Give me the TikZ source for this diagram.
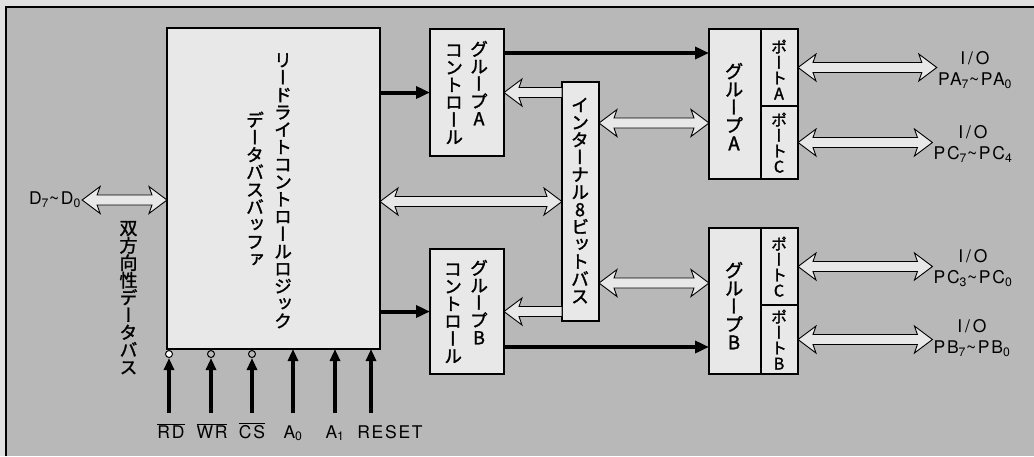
\documentclass[tikz,border=0pt]{standalone}
\usepackage{fontspec}
\setmainfont{TeX Gyre Heros}
\newfontfamily\lblfont[LetterSpace=10]{TeX Gyre Heros}
\newfontfamily\tatefont[RawFeature={+vert;embolden=1.6}]{Noto Sans CJK JP}
\usetikzlibrary{arrows.meta,calc}

\definecolor{paper}{gray}{0.88}
\definecolor{panel}{gray}{0.72}
\definecolor{boxfill}{gray}{0.91}

% vertical (tategaki) text: one glyph per line
\newlength\tatepitch
\newlength\tatesize
\makeatletter
\newcommand\tate[2][17.4pt]{\setlength\tatepitch{#1}\setlength\tatesize{\dimexpr#1+.6pt\relax}%
  \vbox{\offinterlineskip\tatefont\fontsize{\strip@pt\tatesize}{\strip@pt\tatesize}\selectfont
    \tate@#2\tate@stop}}
\def\tate@stop{\tate@stop}
\def\tate@#1{\ifx#1\tate@stop\else
  \hbox to 1em{\hss\vrule height\dimexpr.5\tatepitch+.38em\relax
    depth\dimexpr.5\tatepitch-.38em\relax width0pt\smash{#1}\hss}%
  \expandafter\tate@\fi}
\makeatother

\tikzset{
  blk/.style={draw, line width=1.2pt, fill=boxfill, inner sep=0pt, outer sep=0pt, anchor=north west},
  vtxt/.style={anchor=north, inner sep=0pt},
  lbl/.style={font=\lblfont\fontsize{17.5pt}{21pt}\selectfont, inner sep=1pt, align=center},
  ctl/.style={line width=4pt, -{Triangle[length=14pt,width=12pt]}},
  sig/.style={line width=3.5pt, -{Triangle[length=12pt,width=10pt]}},
  inv/.style={circle, draw, line width=1pt, minimum size=7pt, inner sep=0pt},
  dbus/.style={draw, line width=0.9pt, fill=boxfill,
    to path={let \p1=(\tikztostart), \p2=(\tikztotarget) in
      (\x1,\y1) -- (\x1+18pt,\y1+13.5pt) -- (\x1+15pt,\y1+5pt) -- (\x2-15pt,\y1+5pt)
      -- (\x2-18pt,\y1+13.5pt) -- (\x2,\y1) -- (\x2-18pt,\y1-13.5pt) -- (\x2-15pt,\y1-5pt)
      -- (\x1+15pt,\y1-5pt) -- (\x1+18pt,\y1-13.5pt) -- cycle}},
  inbus/.style={draw, line width=0.9pt, fill=boxfill,
    to path={let \p1=(\tikztostart), \p2=(\tikztotarget) in
      (\x2,\y1) -- (\x2+18pt,\y1+13.5pt) -- (\x2+15pt,\y1+5pt) -- (\x1,\y1+5pt)
      -- (\x1,\y1-5pt) -- (\x2+15pt,\y1-5pt) -- (\x2+18pt,\y1-13.5pt) -- cycle}},
}

\begin{document}
\begin{tikzpicture}[x=1pt, y=-1pt]
  \useasboundingbox (0,0) rectangle (1034,456);
  \fill[paper] (0,0) rectangle (1034,456);
  \fill[panel] (6,7) rectangle (1034,456);
  \draw[line width=1.5pt] (6,456) -- (6,7) -- (1034,7);

  % blocks
  \node[blk, minimum width=213pt, minimum height=321pt] (main) at (167,28) {};
  \node[blk, minimum width=74pt, minimum height=127pt] (ctla) at (430,29) {};
  \node[blk, minimum width=74pt, minimum height=125pt] (ctlb) at (430,249) {};
  \node[blk, minimum width=37pt, minimum height=239pt] (ibus) at (562,82) {};
  \node[blk, minimum width=52pt, minimum height=150pt] (grpa) at (709,29) {};
  \node[blk, minimum width=37pt, minimum height=77pt] (porta) at (grpa.north east) {};
  \node[blk, minimum width=37pt, minimum height=73pt] (portca) at (porta.south west) {};
  \node[blk, minimum width=52pt, minimum height=146pt] (grpb) at (709,228) {};
  \node[blk, minimum width=37pt, minimum height=77pt] (portcb) at (grpb.north east) {};
  \node[blk, minimum width=37pt, minimum height=69pt] (portb) at (portcb.south west) {};

  % vertical texts
  \node[vtxt] (mainr) at (283,51) {\tate{リードライトコントロールロジック}};
  \node[vtxt] (mainl) at (255,111) {\tate{データバスバッファ}};
  \node[vtxt] (ctlar) at (479,40) {\tate{グループA}};
  \node[vtxt] (ctlal) at (454,41) {\tate{コントロール}};
  \node[vtxt] (ctlbr) at (479,259) {\tate{グループB}};
  \node[vtxt] (ctlbl) at (453,260) {\tate{コントロール}};
  \node[vtxt] (ibustxt) at (580,96) {\tate{インターナル8ビットバス}};
  \node[vtxt] (grpatxt) at (734,62) {\tate[18pt]{グループA}};
  \node[vtxt] (portatxt) at (779,39) {\tate[15.5pt]{ポートA}};
  \node[vtxt] (portcatxt) at (779,112) {\tate[15.5pt]{ポートC}};
  \node[vtxt] (grpbtxt) at (734,261) {\tate[18pt]{グループB}};
  \node[vtxt] (portcbtxt) at (779,236) {\tate[15.5pt]{ポートC}};
  \node[vtxt] (portbtxt) at (779,309) {\tate[15.5pt]{ポートB}};
  \node[vtxt] (dbustxt) at (128.5,219) {\tate{双方向性データバス}};

  % labels
  \node[lbl] (dlbl) at (55,200) {D\textsubscript{7}\textasciitilde D\textsubscript{0}};
  \node[lbl] (pa) at (975,70) {I\,/\,O\\PA\textsubscript{7}\textasciitilde PA\textsubscript{0}};
  \node[lbl] (pch) at (973,144) {I\,/\,O\\PC\textsubscript{7}\textasciitilde PC\textsubscript{4}};
  \node[lbl] (pcl) at (973,268) {I\,/\,O\\PC\textsubscript{3}\textasciitilde PC\textsubscript{0}};
  \node[lbl] (pb) at (972,338) {I\,/\,O\\PB\textsubscript{7}\textasciitilde PB\textsubscript{0}};

  \node[lbl, anchor=base] (rd) at (171,438) {$\overline{\mbox{RD}}$};
  \node[lbl, anchor=base] (wr) at (212,438) {$\overline{\mbox{WR}}$};
  \node[lbl, anchor=base] (cs) at (252,438) {$\overline{\mbox{CS}}$};
  \node[lbl, anchor=base] (a0) at (293,438) {A\textsubscript{0}};
  \node[lbl, anchor=base] (a1) at (335,438) {A\textsubscript{1}};
  \node[lbl, anchor=base] (reset) at (390,438) {RESET};

  % control lines
  \coordinate (ctlaout) at ([yshift=-24pt]ctla.north east);
  \coordinate (ctlbout) at ([yshift=27pt]ctlb.south east);
  \draw[ctl] (main.east |- ctla.west) -- (ctla.west);
  \draw[ctl] (main.east |- ctlb.west) -- (ctlb.west);
  \draw[ctl] (ctlaout) -- (ctlaout -| grpa.west);
  \draw[ctl] (ctlbout) -- (ctlbout -| grpb.west);

  % buses
  \coordinate (busa) at ([yshift=-41pt]ibus.north east);
  \coordinate (busb) at ([yshift=38pt]ibus.south east);
  \draw[dbus] (dlbl.east) to (main.west |- dlbl.east);
  \draw[dbus] (main.east |- ibus.west) to (ibus.west);
  \draw[inbus] (ibus.west |- ctla.east) to (ctla.east);
  \draw[inbus] (ibus.west |- ctlb.east) to (ctlb.east);
  \draw[dbus] (busa) to (busa -| grpa.west);
  \draw[dbus] (busb) to (busb -| grpb.west);
  \draw[dbus] (porta.east) to (porta.east -| pa.west);
  \draw[dbus] (portca.east) to (portca.east -| pch.west);
  \draw[dbus] (portcb.east) to (portcb.east -| pcl.west);
  \draw[dbus] (portb.east) to (portb.east -| pb.west);

  % chip select and friends
  \coordinate (sigbase) at (0,413);
  \coordinate (rstpin) at (371,413);
  \node[inv, fill=white] (rdinv) at (169,354) {};
  \node[inv, fill=panel] (wrinv) at (211,354) {};
  \node[inv, fill=panel] (csinv) at (252,354) {};
  \draw[sig] (rdinv |- sigbase) -- (rdinv.south);
  \draw[sig] (wrinv |- sigbase) -- (wrinv.south);
  \draw[sig] (csinv |- sigbase) -- (csinv.south);
  \draw[sig] (a0.north |- sigbase) -- (a0.north |- main.south);
  \draw[sig] (a1.north |- sigbase) -- (a1.north |- main.south);
  \draw[sig] (rstpin) -- (rstpin |- main.south);
\end{tikzpicture}
\end{document}
